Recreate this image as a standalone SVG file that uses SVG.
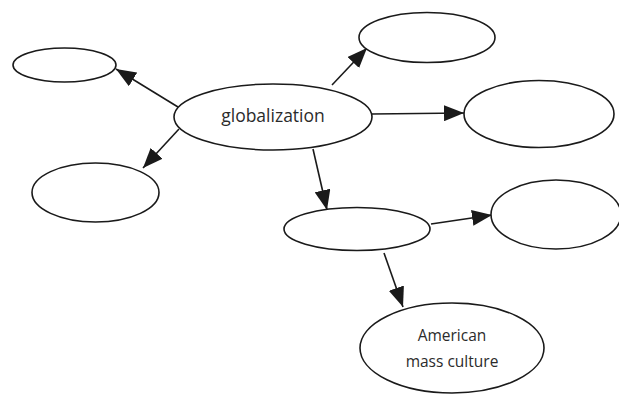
<svg xmlns="http://www.w3.org/2000/svg" width="619" height="394" viewBox="0 0 619 394">
<style>
.n{fill:#fff;stroke:#1a1a1a;stroke-width:1.6}
.c{stroke:#1a1a1a;stroke-width:1.6;fill:none;marker-end:url(#ah)}
.t{font-family:"Open Sans","Liberation Sans",sans-serif;fill:#2b2b2b;text-anchor:middle}
</style>
<defs>
<marker id="ah" markerUnits="userSpaceOnUse" markerWidth="20" markerHeight="16" refX="20" refY="8" orient="auto">
<path d="M0,0 L20,8 L0,16 Z" fill="#1a1a1a"/>
</marker>
</defs>
<rect width="619" height="394" fill="#fff"/>
<g id="connectors">
<line class="c" x1="178" y1="107" x2="116" y2="69"/>
<line class="c" x1="179" y1="129" x2="143" y2="168"/>
<line class="c" x1="332" y1="85" x2="367" y2="48"/>
<line class="c" x1="372" y1="114" x2="464" y2="113"/>
<line class="c" x1="313" y1="149" x2="327" y2="210"/>
<line class="c" x1="431" y1="224" x2="492" y2="215"/>
<line class="c" x1="384" y1="253" x2="403" y2="307"/>
</g>
<g id="globalization"><ellipse class="n" cx="273" cy="117" rx="99" ry="33"/><text class="t" x="273" y="122" font-size="17.5">globalization</text></g>
<g id="node-topleft"><ellipse class="n" cx="64.5" cy="65" rx="51.5" ry="17"/></g>
<g id="node-left"><ellipse class="n" cx="95.5" cy="192.5" rx="63.5" ry="29.5"/></g>
<g id="node-topright"><ellipse class="n" cx="427" cy="37.5" rx="68" ry="25"/></g>
<g id="node-right"><ellipse class="n" cx="539" cy="114" rx="75" ry="33.5"/></g>
<g id="node-middle"><ellipse class="n" cx="357" cy="229" rx="73" ry="21.5"/></g>
<g id="node-lowerright"><ellipse class="n" cx="556" cy="214.5" rx="65" ry="34.5"/></g>
<g id="american"><ellipse class="n" cx="452" cy="348" rx="92" ry="45"/><text class="t" x="452" y="341" font-size="15.5">American</text><text class="t" x="452" y="367" font-size="15.5">mass culture</text></g>
</svg>
